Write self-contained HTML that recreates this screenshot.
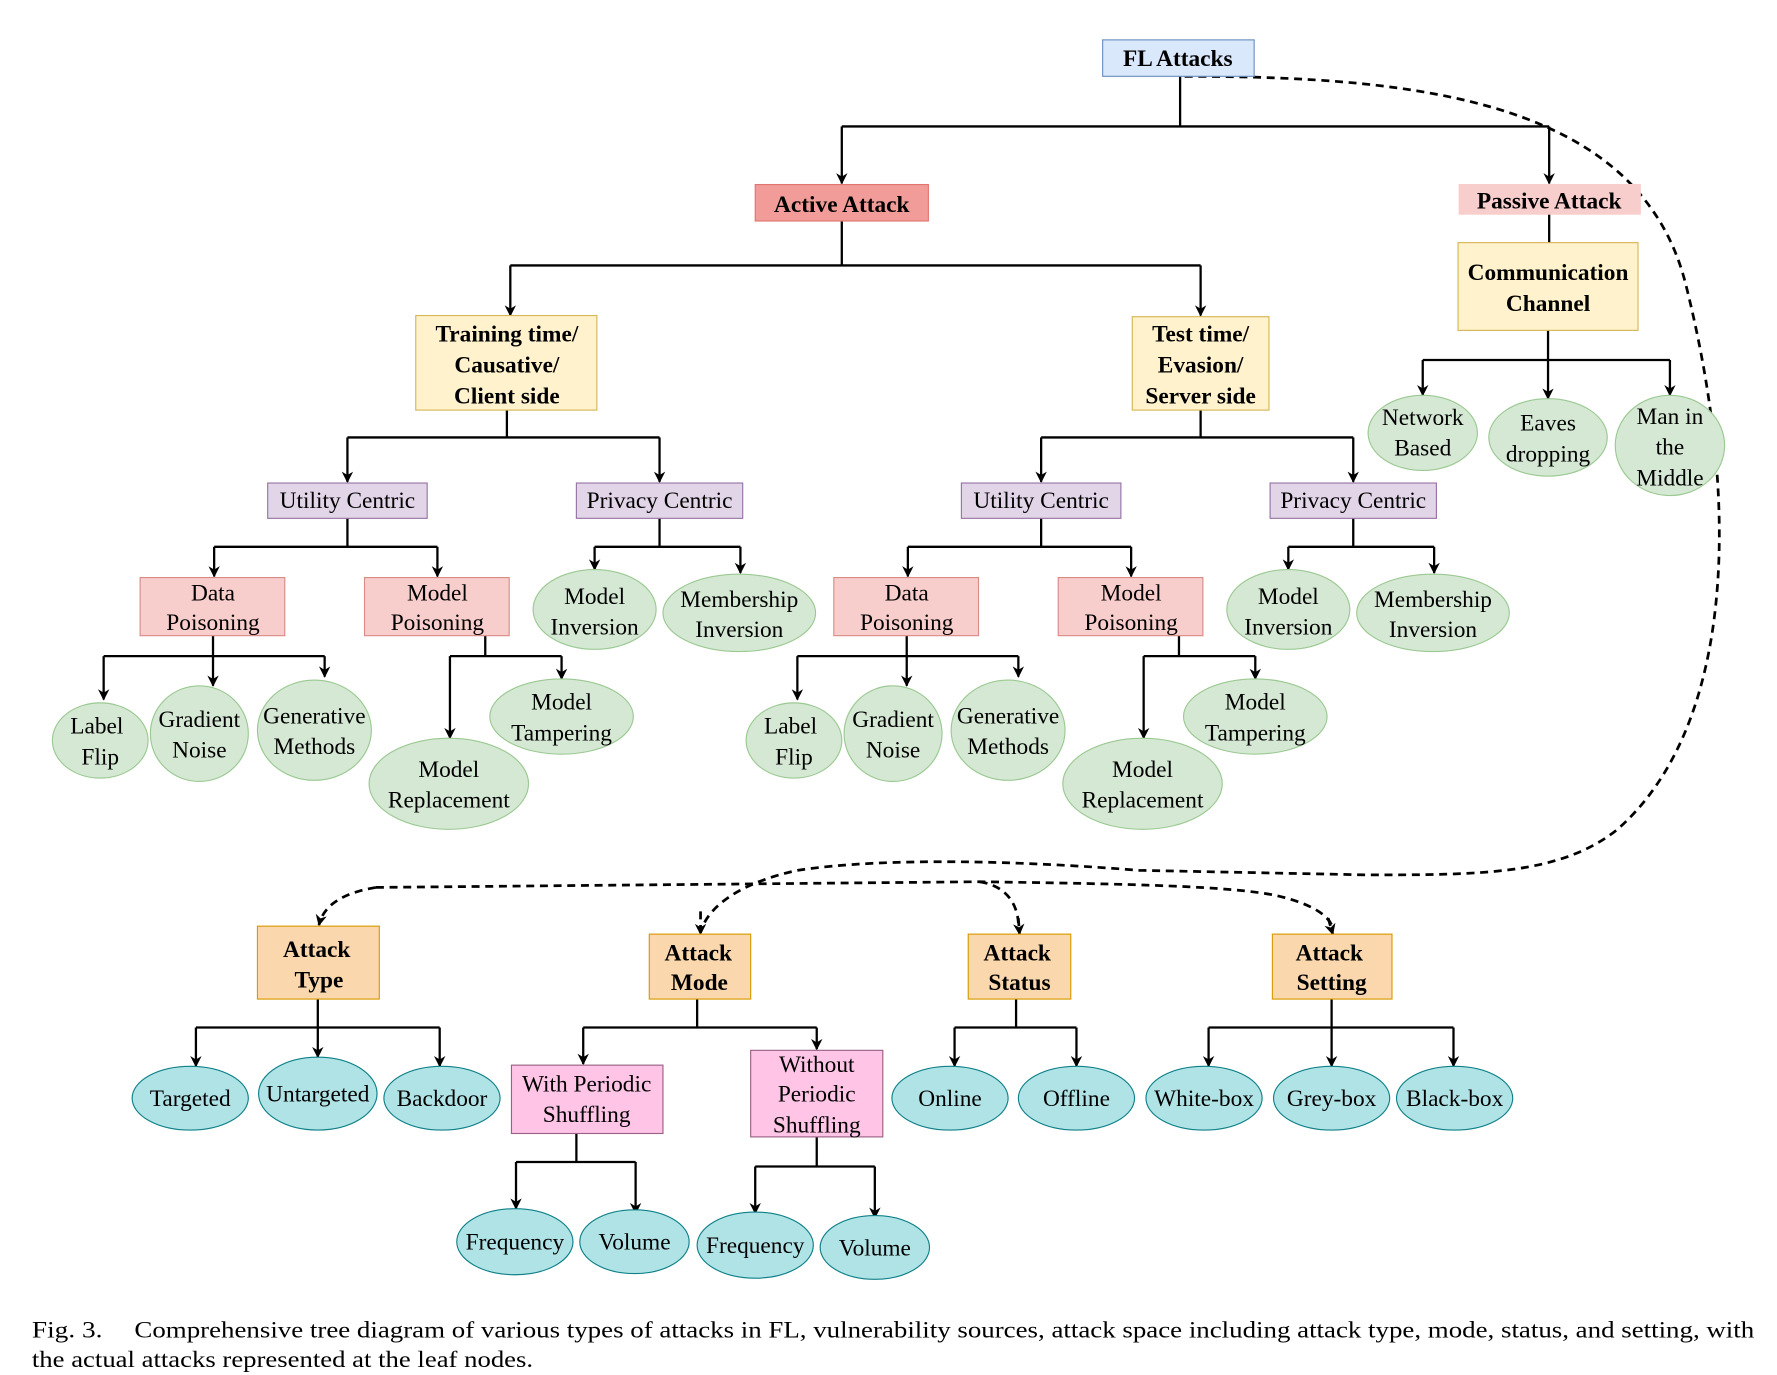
<!DOCTYPE html>
<html><head><meta charset="utf-8"><style>
html,body{margin:0;padding:0;background:#fff}
svg{display:block}
text{font-family:"Liberation Serif","DejaVu Serif",serif;font-size:20.5px;fill:#000;text-anchor:middle}
.b{font-weight:bold}
.ln{stroke:#000;stroke-width:2;fill:none}
.ar{stroke:#000;stroke-width:2;fill:none;marker-end:url(#a)}
.ds{stroke:#000;stroke-width:2.4;fill:none;stroke-dasharray:7,5}
.dsa{stroke:#000;stroke-width:2.4;fill:none;stroke-dasharray:7,5;marker-end:url(#a)}
.blue{fill:#dae8fc;stroke:#6c8ebf}
.red{fill:#f19c99;stroke:#e07570}
.pink{fill:#f8cecc;stroke:#d98b88}
.yel{fill:#fff2cc;stroke:#d6b656}
.pur{fill:#e1d5e7;stroke:#9673a6}
.grn{fill:#d5e8d4;stroke:#9bc992}
.org{fill:#fad7ac;stroke:#d79b00}
.cy{fill:#b0e3e6;stroke:#0e8088}
.mag{fill:#ffc4e6;stroke:#996185}
</style></head><body>
<svg width="1777" height="1375" viewBox="0 0 1560 1207" preserveAspectRatio="none" xmlns="http://www.w3.org/2000/svg">
<defs><marker id="a" markerWidth="10" markerHeight="10" refX="9" refY="5" orient="auto" markerUnits="userSpaceOnUse"><path d="M0,0 L10,5 L0,10 L3,5 z" fill="#000"/></marker></defs>

<!-- dashed -->
<path class="ds" d="M1040,67 C1250,67 1440,90 1480,250 C1530,450 1520,640 1420,728 C1370,768 1300,768 1200,768 L1000,764 C900,756 780,752 700,764 C650,775 622,795 615,818"/>
<path class="dsa" d="M615,800 L615,820"/>
<path class="dsa" d="M330,779 C300,784 284,795 280,812"/>
<path class="ds" d="M330,779 L860,774 C1000,776 1080,778 1120,786 C1155,794 1166,805 1169,812"/>
<path class="dsa" d="M1166,806 L1170,820"/>
<path class="ds" d="M860,774 C885,778 893,795 894,810"/>
<path class="dsa" d="M894,806 L895,820"/>

<!-- connectors top -->
<path class="ln" d="M1036,67 V111 M739,111 H1360"/>
<path class="ar" d="M739,111 V161"/><path class="ar" d="M1360,111 V161"/>
<path class="ln" d="M1360,188 V213"/>
<path class="ln" d="M1359,290 V316 M1249,316 H1466"/>
<path class="ar" d="M1249,316 V347"/><path class="ar" d="M1359,316 V350"/><path class="ar" d="M1466,316 V347"/>
<path class="ln" d="M739,194 V233 M448,233 H1054"/>
<path class="ar" d="M448,233 V277"/><path class="ar" d="M1054,233 V277"/>

<!-- left/right subtrees -->
<g id="sub">
<path class="ln" d="M445,360 V384 M305,384 H579"/>
<path class="ar" d="M305,384 V423"/><path class="ar" d="M579,384 V423"/>
<path class="ln" d="M305,455 V480 M188,480 H384"/>
<path class="ar" d="M188,480 V506"/><path class="ar" d="M384,480 V506"/>
<path class="ln" d="M579,455 V480 M522,480 H650"/>
<path class="ar" d="M522,480 V500"/><path class="ar" d="M650,480 V503"/>
<path class="ln" d="M187,558 V576 M91,576 H285"/>
<path class="ar" d="M91,576 V614"/><path class="ar" d="M187,576 V602"/><path class="ar" d="M285,576 V594"/>
<path class="ln" d="M426,558 V576 M395,576 H493"/>
<path class="ar" d="M395,576 V648"/><path class="ar" d="M493,576 V596"/>
</g>
<g transform="translate(609,0)">
<path class="ln" d="M445,360 V384 M305,384 H579"/>
<path class="ar" d="M305,384 V423"/><path class="ar" d="M579,384 V423"/>
<path class="ln" d="M305,455 V480 M188,480 H384"/>
<path class="ar" d="M188,480 V506"/><path class="ar" d="M384,480 V506"/>
<path class="ln" d="M579,455 V480 M522,480 H650"/>
<path class="ar" d="M522,480 V500"/><path class="ar" d="M650,480 V503"/>
<path class="ln" d="M187,558 V576 M91,576 H285"/>
<path class="ar" d="M91,576 V614"/><path class="ar" d="M187,576 V602"/><path class="ar" d="M285,576 V594"/>
<path class="ln" d="M426,558 V576 M395,576 H493"/>
<path class="ar" d="M395,576 V648"/><path class="ar" d="M493,576 V596"/>
</g>

<!-- bottom connectors -->
<path class="ln" d="M279,877 V902 M172,902 H386"/>
<path class="ar" d="M172,902 V936"/><path class="ar" d="M279,902 V928"/><path class="ar" d="M386,902 V936"/>
<path class="ln" d="M612,877 V902 M512,902 H717"/>
<path class="ar" d="M512,902 V934"/><path class="ar" d="M717,902 V921"/>
<path class="ln" d="M506,995 V1020 M453,1020 H558"/>
<path class="ar" d="M453,1020 V1061"/><path class="ar" d="M558,1020 V1065"/>
<path class="ln" d="M717,998 V1024 M663,1024 H768"/>
<path class="ar" d="M663,1024 V1065"/><path class="ar" d="M768,1024 V1069"/>
<path class="ln" d="M892,877 V902 M838,902 H945"/>
<path class="ar" d="M838,902 V936"/><path class="ar" d="M945,902 V936"/>
<path class="ln" d="M1169,877 V902 M1061,902 H1276"/>
<path class="ar" d="M1061,902 V936"/><path class="ar" d="M1169,902 V936"/><path class="ar" d="M1276,902 V936"/>

<!-- top nodes -->
<rect class="blue" x="968" y="35" width="133" height="32"/><text class="b" x="1034" y="58">FL Attacks</text>
<rect class="red" x="663" y="162" width="152" height="32"/><text class="b" x="739" y="186">Active Attack</text>
<rect class="pink" x="1281" y="162" width="159" height="26" style="stroke:#f8cecc"/><text class="b" x="1360" y="183">Passive Attack</text>
<rect class="yel" x="1280" y="213" width="158" height="77"/><text class="b" x="1359" y="246">Communication</text><text class="b" x="1359" y="273">Channel</text>
<ellipse class="grn" cx="1249" cy="380" rx="48" ry="33"/><text x="1249" y="373">Network</text><text x="1249" y="400">Based</text>
<ellipse class="grn" cx="1359" cy="384" rx="52" ry="34"/><text x="1359" y="378">Eaves</text><text x="1359" y="405">dropping</text>
<ellipse class="grn" cx="1466" cy="391" rx="48" ry="44"/><text x="1466" y="372">Man in</text><text x="1466" y="399">the</text><text x="1466" y="426">Middle</text>

<rect class="yel" x="365" y="277" width="159" height="83"/><text class="b" x="445" y="300">Training time/</text><text class="b" x="445" y="327">Causative/</text><text class="b" x="445" y="354">Client side</text>
<rect class="yel" x="994" y="278" width="120" height="82"/><text class="b" x="1054" y="300">Test time/</text><text class="b" x="1054" y="327">Evasion/</text><text class="b" x="1054" y="354">Server side</text>

<!-- subtree nodes -->
<g>
<rect class="pur" x="235" y="424" width="140" height="31"/><text x="305" y="446">Utility Centric</text>
<rect class="pur" x="506" y="424" width="146" height="31"/><text x="579" y="446">Privacy Centric</text>
<rect class="pink" x="123" y="507" width="127" height="51"/><text x="187" y="527">Data</text><text x="187" y="553">Poisoning</text>
<rect class="pink" x="320" y="507" width="127" height="51"/><text x="384" y="527">Model</text><text x="384" y="553">Poisoning</text>
<ellipse class="grn" cx="522" cy="535" rx="54" ry="35"/><text x="522" y="530">Model</text><text x="522" y="557">Inversion</text>
<ellipse class="grn" cx="649" cy="538" rx="67" ry="34"/><text x="649" y="533">Membership</text><text x="649" y="559">Inversion</text>
<ellipse class="grn" cx="88" cy="650" rx="42" ry="33"/><text x="85" y="644">Label</text><text x="88" y="671">Flip</text>
<ellipse class="grn" cx="175" cy="644" rx="43" ry="42"/><text x="175" y="638">Gradient</text><text x="175" y="665">Noise</text>
<ellipse class="grn" cx="276" cy="641" rx="50" ry="44"/><text x="276" y="635">Generative</text><text x="276" y="662">Methods</text>
<ellipse class="grn" cx="493" cy="629" rx="63" ry="33"/><text x="493" y="623">Model</text><text x="493" y="650">Tampering</text>
<ellipse class="grn" cx="394" cy="688" rx="70" ry="40"/><text x="394" y="682">Model</text><text x="394" y="709">Replacement</text>
</g>
<g transform="translate(609,0)">
<rect class="pur" x="235" y="424" width="140" height="31"/><text x="305" y="446">Utility Centric</text>
<rect class="pur" x="506" y="424" width="146" height="31"/><text x="579" y="446">Privacy Centric</text>
<rect class="pink" x="123" y="507" width="127" height="51"/><text x="187" y="527">Data</text><text x="187" y="553">Poisoning</text>
<rect class="pink" x="320" y="507" width="127" height="51"/><text x="384" y="527">Model</text><text x="384" y="553">Poisoning</text>
<ellipse class="grn" cx="522" cy="535" rx="54" ry="35"/><text x="522" y="530">Model</text><text x="522" y="557">Inversion</text>
<ellipse class="grn" cx="649" cy="538" rx="67" ry="34"/><text x="649" y="533">Membership</text><text x="649" y="559">Inversion</text>
<ellipse class="grn" cx="88" cy="650" rx="42" ry="33"/><text x="85" y="644">Label</text><text x="88" y="671">Flip</text>
<ellipse class="grn" cx="175" cy="644" rx="43" ry="42"/><text x="175" y="638">Gradient</text><text x="175" y="665">Noise</text>
<ellipse class="grn" cx="276" cy="641" rx="50" ry="44"/><text x="276" y="635">Generative</text><text x="276" y="662">Methods</text>
<ellipse class="grn" cx="493" cy="629" rx="63" ry="33"/><text x="493" y="623">Model</text><text x="493" y="650">Tampering</text>
<ellipse class="grn" cx="394" cy="688" rx="70" ry="40"/><text x="394" y="682">Model</text><text x="394" y="709">Replacement</text>
</g>

<!-- bottom nodes -->
<rect class="org" x="226" y="813" width="107" height="64"/><text class="b" x="278" y="840">Attack</text><text class="b" x="280" y="867">Type</text>
<rect class="org" x="570" y="820" width="89" height="57"/><text class="b" x="613" y="843">Attack</text><text class="b" x="614" y="869">Mode</text>
<rect class="org" x="850" y="820" width="90" height="57"/><text class="b" x="893" y="843">Attack</text><text class="b" x="895" y="869">Status</text>
<rect class="org" x="1117" y="820" width="105" height="57"/><text class="b" x="1167" y="843">Attack</text><text class="b" x="1169" y="869">Setting</text>

<ellipse class="cy" cx="167" cy="964" rx="51" ry="28"/><text x="167" y="971">Targeted</text>
<ellipse class="cy" cx="279" cy="960" rx="52" ry="32"/><text x="279" y="967">Untargeted</text>
<ellipse class="cy" cx="388" cy="964" rx="51" ry="28"/><text x="388" y="971">Backdoor</text>
<rect class="mag" x="449" y="935" width="133" height="60"/><text x="515" y="958">With Periodic</text><text x="515" y="985">Shuffling</text>
<rect class="mag" x="659" y="922" width="116" height="76"/><text x="717" y="941">Without</text><text x="717" y="967">Periodic</text><text x="717" y="994">Shuffling</text>
<ellipse class="cy" cx="452" cy="1090" rx="51" ry="29"/><text x="452" y="1097">Frequency</text>
<ellipse class="cy" cx="557" cy="1090" rx="48" ry="28"/><text x="557" y="1097">Volume</text>
<ellipse class="cy" cx="663" cy="1093" rx="51" ry="29"/><text x="663" y="1100">Frequency</text>
<ellipse class="cy" cx="768" cy="1095" rx="48" ry="28"/><text x="768" y="1102">Volume</text>
<ellipse class="cy" cx="834" cy="964" rx="51" ry="28"/><text x="834" y="971">Online</text>
<ellipse class="cy" cx="945" cy="964" rx="51" ry="28"/><text x="945" y="971">Offline</text>
<ellipse class="cy" cx="1057" cy="964" rx="51" ry="28"/><text x="1057" y="971">White-box</text>
<ellipse class="cy" cx="1169" cy="964" rx="51" ry="28"/><text x="1169" y="971">Grey-box</text>
<ellipse class="cy" cx="1277" cy="964" rx="51" ry="28"/><text x="1277" y="971">Black-box</text>

<!-- caption -->
<text x="28" y="1174" style="text-anchor:start;font-size:20px" textLength="62" lengthAdjust="spacingAndGlyphs">Fig. 3.</text>
<text x="118" y="1174" style="text-anchor:start;font-size:20px" textLength="1422" lengthAdjust="spacingAndGlyphs">Comprehensive tree diagram of various types of attacks in FL, vulnerability sources, attack space including attack type, mode, status, and setting, with</text>
<text x="28" y="1200" style="text-anchor:start;font-size:20px" textLength="440" lengthAdjust="spacingAndGlyphs">the actual attacks represented at the leaf nodes.</text>
</svg>
</body></html>
